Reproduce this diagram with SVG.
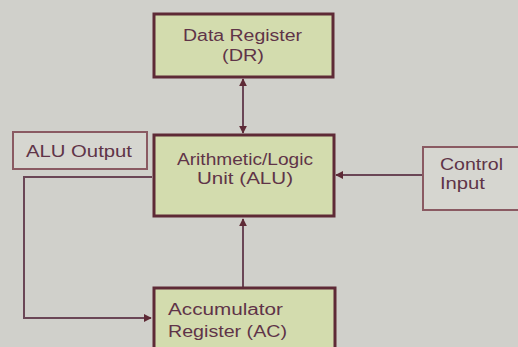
<svg xmlns="http://www.w3.org/2000/svg" width="518" height="347" viewBox="0 0 518 347">
<style>
.box{fill:#d3dcae;stroke:#5e2a36;stroke-width:3}
.plain{fill:#d6d6d0;stroke:#8a5a62;stroke-width:2}
.t{font-family:"Liberation Sans",Arial,sans-serif;font-size:16px;fill:#5f3448;lengthAdjust:spacingAndGlyphs}
.c{stroke:#6a4656;stroke-width:2;fill:none}
</style>
<defs>
<marker id="ah" viewBox="0 0 10 10" refX="9" refY="5" markerWidth="4" markerHeight="4" orient="auto-start-reverse">
<path d="M0,0 L10,5 L0,10 z" fill="#5e2a36"/>
</marker>
</defs>
<rect width="518" height="347" fill="#d0d0cb"/>
<g id="connectors">
<line class="c" x1="243" y1="79" x2="243" y2="133" marker-start="url(#ah)" marker-end="url(#ah)"/>
<line class="c" x1="243" y1="287" x2="243" y2="219" marker-end="url(#ah)"/>
<line class="c" x1="423" y1="175" x2="336" y2="175" marker-end="url(#ah)"/>
<polyline class="c" points="152,177 24,177 24,318 151,318" marker-end="url(#ah)"/>
</g>
<g id="dr">
<rect class="box" x="154" y="14" width="179" height="63"/>
<text class="t" x="183" y="41" textLength="119" lengthAdjust="spacingAndGlyphs">Data Register</text>
<text class="t" x="222" y="61" textLength="42" lengthAdjust="spacingAndGlyphs">(DR)</text>
</g>
<g id="alu">
<rect class="box" x="154" y="135" width="180" height="81"/>
<text class="t" x="177" y="165" textLength="136" lengthAdjust="spacingAndGlyphs">Arithmetic/Logic</text>
<text class="t" x="197" y="184" textLength="96" lengthAdjust="spacingAndGlyphs">Unit (ALU)</text>
</g>
<g id="alu-output">
<rect class="plain" x="13" y="132" width="134" height="37"/>
<text class="t" x="26" y="157" textLength="106" lengthAdjust="spacingAndGlyphs">ALU Output</text>
</g>
<g id="control">
<rect class="plain" x="423" y="147" width="100" height="63"/>
<text class="t" x="440" y="170" textLength="63" lengthAdjust="spacingAndGlyphs">Control</text>
<text class="t" x="440" y="189" textLength="45" lengthAdjust="spacingAndGlyphs">Input</text>
</g>
<g id="ac">
<rect class="box" x="154" y="288" width="181" height="64"/>
<text class="t" x="168" y="315" textLength="115" lengthAdjust="spacingAndGlyphs">Accumulator</text>
<text class="t" x="168" y="337" textLength="119" lengthAdjust="spacingAndGlyphs">Register (AC)</text>
</g>
</svg>
